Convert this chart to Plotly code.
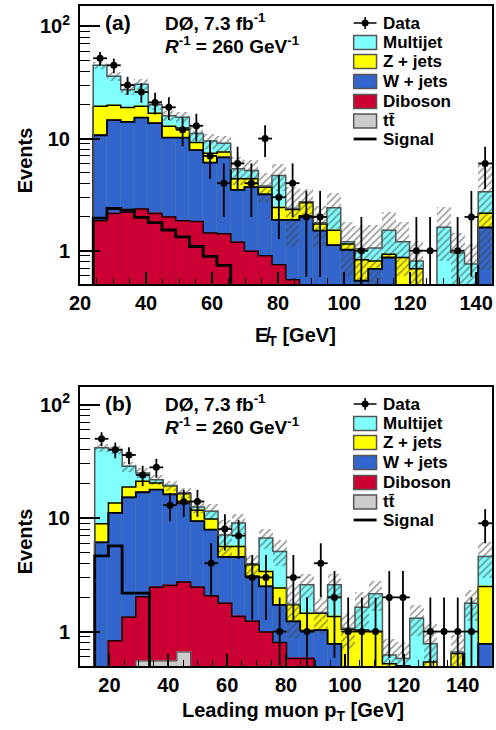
import numpy as np
import plotly.graph_objects as go

# ---------------- panel (a): missing E_T ----------------
edges_a = np.linspace(24.0, 144.8, 30)
data_a = [52, 45, 30, 26, 21, 19, 12, 13, 7, 4, 6, 4, 10, 3, 4, 2, 2, 0, 0, 1, 0, 0, 0, 1, 1, 0, 1, 2, 6]
mj_a = [25.6, 16.1, 8.4, 11.1, 3.2, 3.1, 3.1, 1.9, 2.1, 1.5, 1.0, 0.8, 0.1, 2.25, 0.05, 0.05, 0.05, 0.9, 0.05,
        0.21, 0.25, 0.59, 0.33, 0.12, 0.05, 1.31, 0.7, 0.5, 1.2]
zj_a = [8.7, 5.2, 4.8, 4.0, 3.1, 2.7, 2.2, 1.3, 1.3, 0.8, 0.9, 0.7, 0.5, 0.55, 0.45, 0.65, 0.22, 0.4, 0.13,
        0.29, 0.12, 0.06, 0.45, 0.32, 0.05, 0.05, 0.05, 0.05, 0.55]
wj_a = [8.85, 12.45, 11.9, 13.05, 11.55, 8.2, 8.35, 6.08, 4.65, 5.37, 2.3, 2.7, 2.28, 1.13, 1.33, 1.65, 1.23,
        0.9, 0.85, 0.42, 0.57, 0.8, 0.35, 0.3, 0.15, 0.25, 0.2, 0.2, 1.55]
dib_a = [1.8, 2.1, 2.15, 2.3, 2.1, 1.95, 1.8, 1.77, 1.4, 1.38, 1.15, 0.95, 0.87, 0.72, 0.52, 0.35, 0.25, 0.2,
         0.15, 0.1, 0.1, 0.05, 0.05, 0.05, 0.0, 0.0, 0.0, 0.0, 0.05]
tt_a = [0.05, 0.05, 0.05, 0.05, 0.05, 0.05, 0.05, 0.05, 0.04, 0.04, 0.04, 0.04, 0.03, 0.03, 0.03, 0.03, 0.03,
        0.02, 0.02, 0.02, 0.02, 0.02, 0.02, 0.02, 0.01, 0.01, 0.01, 0.01, 0.01]
signal_a = [1.95, 2.38, 2.3, 1.98, 1.78, 1.53, 1.33, 1.09, 0.89, 0.74, 0.45, 0.4, 0.35, 0.3, 0.25, 0.2, 0.18,
            0.15, 0.12, 0.1, 0.1, 0.08, 0.07, 0.06, 0.05, 0.05, 0.04, 0.04, 0.03]
unc_a = [0.08, 0.1, 0.1, 0.12, 0.1, 0.1, 0.12, 0.15, 0.15, 0.15, 0.28, 0.25, 0.3, 0.27, 0.55, 0.31, 0.4, 0.35,
         0.5, 0.6, 0.6, 0.45, 0.5, 0.5, 0.0, 0.5, 0.5, 0.5, 0.8]

# ---------------- panel (b): leading muon pT ----------------
edges_b = np.linspace(15.0, 150.0, 30)
data_b = [50, 40, 36, 24, 28, 13, 14, 14, 4, 8, 7, 3, 3, 1, 3, 1, 4, 2, 1, 1, 1, 2, 2, 0, 1, 1, 1, 1, 9]
mj_b = [32.67, 26.6, 9.8, 3.9, 1.4, 0.1, 0.3, 0.8, 1.7, 1.47, 3.42, 0.08, 3.28, 2.66, 0.02, 1.13, 0.02, 1.22,
        0.02, 0.61, 1.15, 0.1, 0.08, 0.91, 0.24, 0.05, 0.02, 1.38, 2.09]
zj_b = [2.83, 2.5, 3.6, 4.2, 2.6, 3.1, 2.9, 2.3, 1.9, 1.09, 1.09, 0.82, 0.89, 0.7, 0.49, 0.43, 0.42, 0.58,
        0.65, 0.58, 0.55, 0.22, 0.2, 0.1, 0.24, 0.05, 0.34, 0.1, 1.72]
wj_b = [5.7, 10.27, 13.86, 14.87, 15.34, 13.65, 10.77, 6.94, 5.83, 2.76, 3.18, 1.83, 1.51, 0.92, 0.65, 0.44,
        0.58, 0.38, 0.1, 0.15, 0.15, 0.1, 0.1, 0.1, 0.1, 0.05, 0.1, 0.1, 0.48]
dib_b = [0.3, 0.63, 1.04, 1.48, 1.91, 2.0, 2.07, 2.06, 1.72, 1.48, 1.06, 0.98, 0.79, 0.6, 0.43, 0.43, 0.35,
         0.3, 0.2, 0.2, 0.2, 0.15, 0.15, 0.15, 0.15, 0.1, 0.15, 0.15, 0.25]
tt_b = [0.1, 0.2, 0.3, 0.55, 0.55, 0.55, 0.66, 0.4, 0.35, 0.3, 0.3, 0.25, 0.2, 0.2, 0.15, 0.15, 0.1, 0.1,
        0.1, 0.1, 0.1, 0.05, 0.05, 0.05, 0.05, 0.05, 0.05, 0.05, 0.05]
signal_b = [4.65, 5.7, 2.18, 2.18, 0.45, 0.4, 0.35, 0.3, 0.25, 0.2, 0.18, 0.15, 0.12, 0.1, 0.1, 0.08, 0.07,
            0.06, 0.05, 0.05, 0.04, 0.04, 0.03, 0.03, 0.03, 0.02, 0.02, 0.02, 0.02]
unc_b = [0.08, 0.08, 0.1, 0.1, 0.1, 0.1, 0.1, 0.12, 0.15, 0.35, 0.2, 0.2, 0.2, 0.25, 0.5, 0.25, 0.35, 0.25,
         0.35, 0.35, 0.3, 0.4, 0.4, 0.3, 0.5, 0.0, 0.4, 0.3, 0.35]

x_ticks = [20, 40, 60, 80, 100, 120, 140]
y_tickvals = [1, 10, 100]
y_ticktext = ["1", "10", "10<sup>2</sup>"]
legend_labels = ["Data", "Multijet", "Z + jets", "W + jets", "Diboson", "tt\u0304", "Signal"]

# ---------------- style ----------------
FONT = "Liberation Sans, Arial, Helvetica, sans-serif"
C_MJ, C_Z, C_W, C_DIB, C_TT = "#80FFFF", "#FFFF00", "#3366CC", "#CC0033", "#CCCCCC"
W, H = 496, 730
L, R, T, B = 80, 2, 6, 64
PW, PH = W - L - R, H - T - B


def px_x(x):
    return (x - L) / PW


def px_y(y):
    return (H - B - y) / PH


fig = go.Figure()


def add_panel(edges, data, mj, zj, wj, dib, tt, sig, unc, xa, ya):
    edges = np.asarray(edges)
    centers = 0.5 * (edges[:-1] + edges[1:])
    widths = np.diff(edges)
    c_t = np.asarray(tt, float)
    c_d = c_t + np.asarray(dib)
    c_w = c_d + np.asarray(wj)
    c_z = c_w + np.asarray(zj)
    tot = c_z + np.asarray(mj)
    for vals, col in [(tot, C_MJ), (c_z, C_Z), (c_w, C_W), (c_d, C_DIB), (c_t, C_TT)]:
        fig.add_trace(go.Bar(x=centers, y=vals, width=widths, xaxis=xa, yaxis=ya,
                             marker=dict(color=col, line=dict(color=col, width=0.5)),
                             showlegend=False, hoverinfo="skip"))
    f = np.minimum(np.asarray(unc, float), 0.9)
    fig.add_trace(go.Bar(x=centers, y=2 * f * tot, base=tot * (1 - f), width=widths, xaxis=xa, yaxis=ya,
                         marker=dict(color="rgba(0,0,0,0)", line=dict(width=0),
                                     pattern=dict(shape="/", fgcolor="#444444", bgcolor="rgba(0,0,0,0)",
                                                  size=5, solidity=0.35, fillmode="overlay")),
                         showlegend=False, hoverinfo="skip"))
    for vals, col, lw in [(c_t, "#444444", 1.0), (c_d, "#1a0000", 1.5), (c_w, "black", 1.8),
                          (c_z, "black", 1.5), (tot, "#555555", 1.5)]:
        xs = [edges[0]] + list(edges)
        ys = [1e-3] + list(vals) + [vals[-1]]
        fig.add_trace(go.Scatter(x=xs, y=ys, mode="lines", xaxis=xa, yaxis=ya,
                                 line=dict(color=col, width=lw, shape="hv"),
                                 showlegend=False, hoverinfo="skip"))
    xs = [edges[0]] + list(edges)
    ys = [1e-3] + list(sig) + [sig[-1]]
    fig.add_trace(go.Scatter(x=xs, y=ys, mode="lines", xaxis=xa, yaxis=ya,
                             line=dict(color="black", width=2.8, shape="hv"),
                             showlegend=False, hoverinfo="skip"))
    d = np.asarray(data, float)
    yv = [v if v > 0 else None for v in d]
    err = np.sqrt(d)
    errm = np.minimum(err, d * 0.999)
    fig.add_trace(go.Scatter(x=centers, y=yv, mode="markers", xaxis=xa, yaxis=ya,
                             marker=dict(color="black", size=7),
                             error_y=dict(type="data", array=err, arrayminus=errm, color="black",
                                          thickness=1.8, width=0),
                             error_x=dict(type="data", array=widths / 2, color="black", thickness=1.8, width=0),
                             showlegend=False, hoverinfo="skip"))


add_panel(edges_a, data_a, mj_a, zj_a, wj_a, dib_a, tt_a, signal_a, unc_a, "x", "y")
add_panel(edges_b, data_b, mj_b, zj_b, wj_b, dib_b, tt_b, signal_b, unc_b, "x2", "y2")

# panel geometry (pixels)
top_a, bot_a = 6, 284
top_b, bot_b = 387, 666

axis_common = dict(showline=True, linewidth=2, linecolor="black", mirror=True, showgrid=False,
                   zeroline=False, tickfont=dict(family=FONT, size=20, color="black", weight="bold"))
xcommon = dict(axis_common, tickmode="array", tickvals=x_ticks, ticks="inside", ticklen=12, tickwidth=1.5,
               tickcolor="black",
               minor=dict(ticks="inside", ticklen=6, tickwidth=1.2, tickcolor="black", dtick=5, showgrid=False))
ycommon = dict(axis_common, type="log", tickmode="array", tickvals=y_tickvals, ticktext=y_ticktext,
               ticks="inside", ticklen=20, tickwidth=1.5, tickcolor="black", ticklabelstandoff=4,
               minor=dict(ticks="inside", ticklen=10, tickwidth=1.2, tickcolor="black", dtick="D1",
                          showgrid=False))

fig.update_layout(
    width=W, height=H, margin=dict(l=L, r=R, t=T, b=B),
    paper_bgcolor="white", plot_bgcolor="white", barmode="overlay", bargap=0,
    showlegend=False,
    xaxis=dict(xcommon, domain=[0, 1], anchor="y", range=[20, 144.8]),
    yaxis=dict(ycommon, domain=[px_y(bot_a), 1], anchor="x",
               range=[np.log10(0.505), np.log10(152)]),
    xaxis2=dict(xcommon, domain=[0, 1], anchor="y2", range=[10, 150]),
    yaxis2=dict(ycommon, domain=[0, px_y(top_b)], anchor="x2",
                range=[np.log10(0.497), np.log10(143)]),
)

ann = []
shapes = []


def text(x, y, s, size, anchor="left", angle=0):
    ann.append(dict(x=px_x(x), y=px_y(y), xref="paper", yref="paper", text=s, showarrow=False,
                    xanchor=anchor, yanchor="middle", textangle=angle,
                    font=dict(family=FONT, size=size, color="black", weight="bold")))


for top, tag in [(top_a, "(a)"), (top_b, "(b)")]:
    text(103, top + 16, tag, 21)
    text(163, top + 16, "DØ, 7.3 fb<sup>-1</sup>", 19)
    text(163, top + 39, "<i>R</i><sup>-1</sup> = 260 GeV<sup>-1</sup>", 19)
    rows = [17, 36.5, 55.5, 75.5, 95.5, 115, 133]
    fills = [None, C_MJ, C_Z, C_W, C_DIB, C_TT, None]
    for i, (lab, off, fc) in enumerate(zip(legend_labels, rows, fills)):
        yc = top + off
        text(382, yc, lab, 17)
        if fc is not None:
            shapes.append(dict(type="rect", xref="paper", yref="paper", x0=px_x(355), x1=px_x(378),
                               y0=px_y(yc + 7), y1=px_y(yc - 7), fillcolor=fc,
                               line=dict(color="#555555", width=1.5)))
        elif lab == "Data":
            shapes.append(dict(type="line", xref="paper", yref="paper", x0=px_x(355), x1=px_x(378),
                               y0=px_y(yc), y1=px_y(yc), line=dict(color="black", width=1.5)))
            shapes.append(dict(type="line", xref="paper", yref="paper", x0=px_x(366.5), x1=px_x(366.5),
                               y0=px_y(yc - 6), y1=px_y(yc + 6), line=dict(color="black", width=1.5)))
            shapes.append(dict(type="circle", xref="paper", yref="paper", x0=px_x(363), x1=px_x(370),
                               y0=px_y(yc + 3.5), y1=px_y(yc - 3.5), fillcolor="black",
                               line=dict(color="black", width=0)))
        else:
            shapes.append(dict(type="line", xref="paper", yref="paper", x0=px_x(355), x1=px_x(378),
                               y0=px_y(yc), y1=px_y(yc), line=dict(color="black", width=2.8)))

text(25, 160, "Events", 20, anchor="center", angle=-90)
text(25, 541, "Events", 20, anchor="center", angle=-90)
text(297, 336, "E\u0338<sub>T</sub> [GeV]", 20, anchor="center")
text(294, 711, "Leading muon p<sub>T</sub> [GeV]", 20, anchor="center")

fig.update_layout(annotations=ann, shapes=shapes)
fig.write_html("out.html", config={"displayModeBar": False},
               post_script="document.body.style.margin='0px';")
